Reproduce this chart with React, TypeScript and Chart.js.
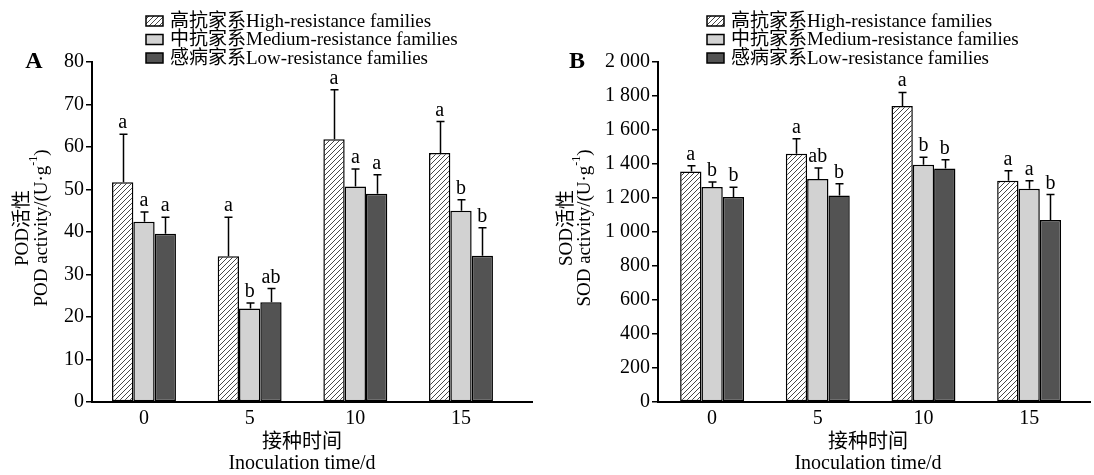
import React, { useEffect, useRef } from "react";
import { Chart, registerables } from "chart.js";
Chart.register(...registerables);

const days = [0, 5, 10, 15];
const seriesNames = [
  "高抗家系High-resistance families",
  "中抗家系Medium-resistance families",
  "感病家系Low-resistance families",
];

const podHigh = [51.7, 34.3, 61.8, 58.6];
const podHighSd = [11.3, 9.2, 11.7, 7.4];
const podMedium = [42.4, 22.0, 50.7, 45.0];
const podMediumSd = [2.3, 1.3, 4.1, 2.6];
const podLow = [39.6, 23.5, 49.0, 34.4];
const podLowSd = [3.9, 3.2, 4.5, 6.6];
const podHighLetters = ["a", "a", "a", "a"];
const podMediumLetters = ["a", "b", "a", "b"];
const podLowLetters = ["a", "ab", "a", "b"];

const sodHigh = [1356, 1460, 1741, 1302];
const sodHighSd = [34, 88, 80, 58];
const sodMedium = [1265, 1312, 1396, 1255];
const sodMediumSd = [29, 64, 44, 47];
const sodLow = [1206, 1214, 1374, 1070];
const sodLowSd = [57, 70, 51, 150];
const sodHighLetters = ["a", "a", "a", "a"];
const sodMediumLetters = ["b", "ab", "b", "a"];
const sodLowLetters = ["b", "b", "b", "b"];

const FONT = '"Liberation Serif", "Times New Roman", "Noto Sans CJK SC", serif';

function makeHatch(): CanvasPattern | string {
  const c = document.createElement("canvas");
  c.width = 5;
  c.height = 5;
  const g = c.getContext("2d");
  if (!g) return "#fff";
  g.fillStyle = "#fff";
  g.fillRect(0, 0, 5, 5);
  g.strokeStyle = "#333";
  g.lineWidth = 0.9;
  g.beginPath();
  g.moveTo(0, 5);
  g.lineTo(5, 0);
  g.moveTo(-1, 1);
  g.lineTo(1, -1);
  g.moveTo(4, 6);
  g.lineTo(6, 4);
  g.stroke();
  return g.createPattern(c, "repeat") as CanvasPattern;
}

type PanelCfg = {
  letter: string;
  prefix: string;
  yMax: number;
  yStep: number;
  axisLeft: number;
  rightPad: number;
  xMin: number;
  xMax: number;
  title1X: number;
  title2X: number;
  letterX: number;
  legendX: number;
  values: number[][];
  sds: number[][];
  letters: string[][];
  fmt: (v: number) => string;
};

function Panel({ cfg }: { cfg: PanelCfg }) {
  const ref = useRef<HTMLCanvasElement | null>(null);
  useEffect(() => {
    if (!ref.current) return;
    const hatch = makeHatch();
    const fills: any[] = [hatch, "#d2d2d2", "#535353"];

    const overlay = {
      id: "overlay",
      afterDatasetsDraw(chart: any) {
        const ctx = chart.ctx;
        const ys = chart.scales.y;
        ctx.save();
        ctx.strokeStyle = "#000";
        ctx.lineWidth = 1.5;
        ctx.fillStyle = "#000";
        ctx.font = `20px ${FONT}`;
        ctx.textAlign = "center";
        ctx.textBaseline = "alphabetic";
        cfg.values.forEach((vals, i) => {
          const meta = chart.getDatasetMeta(i);
          meta.data.forEach((el: any, j: number) => {
            const top = ys.getPixelForValue(vals[j] + cfg.sds[i][j]);
            const x = Math.round(el.x) + 0.5;
            ctx.beginPath();
            ctx.moveTo(x, el.y);
            ctx.lineTo(x, top);
            ctx.moveTo(x - 4, top);
            ctx.lineTo(x + 4, top);
            ctx.stroke();
            ctx.fillText(cfg.letters[i][j], el.x, top - 6);
          });
        });
        ctx.restore();
      },
      afterDraw(chart: any) {
        const ctx = chart.ctx;
        const area = chart.chartArea;
        ctx.save();
        ctx.fillStyle = "#000";
        // legend
        ctx.font = `19px ${FONT}`;
        ctx.textBaseline = "middle";
        ctx.textAlign = "left";
        const rows = [21, 39.5, 58];
        seriesNames.forEach((name, i) => {
          const y = rows[i];
          ctx.fillStyle = fills[i];
          ctx.fillRect(cfg.legendX, y - 5, 17, 10);
          ctx.strokeStyle = "#000";
          ctx.lineWidth = 1.5;
          ctx.strokeRect(cfg.legendX, y - 5, 17, 10);
          ctx.fillStyle = "#000";
          ctx.fillText(name, cfg.legendX + 24, y + 1);
        });
        // panel letter
        ctx.font = `bold 24px ${FONT}`;
        ctx.textAlign = "center";
        ctx.textBaseline = "alphabetic";
        ctx.fillText(cfg.letter, cfg.letterX, 68);
        // x title
        ctx.font = `20px ${FONT}`;
        ctx.textBaseline = "middle";
        const cx = area.left + 210;
        ctx.fillText("接种时间", cx, 443);
        ctx.fillText("Inoculation time/d", cx, 464);
        // y title (rotated)
        const cy = (area.top + area.bottom) / 2 - 4;
        ctx.save();
        ctx.translate(cfg.title1X, cy);
        ctx.rotate(-Math.PI / 2);
        ctx.font = `19px ${FONT}`;
        ctx.textAlign = "center";
        ctx.fillText(cfg.prefix + "活性", 0, 0);
        ctx.restore();
        ctx.save();
        ctx.translate(cfg.title2X, cy);
        ctx.rotate(-Math.PI / 2);
        const a = cfg.prefix + " activity/(U·g";
        const sup = "-1";
        const b = ")";
        ctx.font = `19px ${FONT}`;
        const wa = ctx.measureText(a).width;
        const wb = ctx.measureText(b).width;
        ctx.font = `12px ${FONT}`;
        const ws = ctx.measureText(sup).width;
        let x0 = -(wa + ws + wb) / 2;
        ctx.textAlign = "left";
        ctx.font = `19px ${FONT}`;
        ctx.fillText(a, x0, 0);
        x0 += wa;
        ctx.font = `12px ${FONT}`;
        ctx.fillText(sup, x0, -8);
        x0 += ws;
        ctx.font = `19px ${FONT}`;
        ctx.fillText(b, x0, 0);
        ctx.restore();
        ctx.restore();
      },
    };

    const chart = new Chart(ref.current, {
      type: "bar",
      data: {
        datasets: cfg.values.map((vals, i) => ({
          label: seriesNames[i],
          data: days.map((d, j) => ({ x: d, y: vals[j] })),
          backgroundColor: fills[i],
          borderColor: "#000",
          borderWidth: 1.5,
          borderSkipped: false,
          categoryPercentage: 0.605,
          barPercentage: 1,
        })) as any,
      },
      options: {
        animation: false,
        responsive: false,
        layout: { padding: { left: 0, right: cfg.rightPad, top: 62, bottom: 0 } },
        plugins: { legend: { display: false }, tooltip: { enabled: false } },
        scales: {
          x: {
            type: "linear",
            offset: false,
            min: cfg.xMin,
            max: cfg.xMax,
            afterBuildTicks: (s: any) => {
              s.ticks = days.map((v) => ({ value: v }));
            },
            afterFit: (s: any) => {
              s.height = 73;
            },
            grid: { display: false, drawTicks: false, offset: false },
            border: { display: true, color: "#000", width: 2 },
            ticks: {
              color: "#000",
              font: { family: FONT, size: 20 },
              padding: 5,
              autoSkip: false,
              maxRotation: 0,
              callback: (v: any) => String(v),
            },
          },
          y: {
            min: 0,
            max: cfg.yMax,
            afterFit: (s: any) => {
              s.width = cfg.axisLeft;
            },
            ticks: {
              stepSize: cfg.yStep,
              color: "#000",
              font: { family: FONT, size: 20 },
              padding: 2,
              callback: (v: any) => cfg.fmt(Number(v)),
            },
            grid: {
              drawOnChartArea: false,
              drawTicks: true,
              tickLength: 6,
              color: "#000",
              lineWidth: 1.5,
            },
            border: { display: true, color: "#000", width: 2 },
          },
        },
      } as any,
      plugins: [overlay],
    });
    return () => chart.destroy();
  }, [cfg]);
  return <canvas ref={ref} width={547} height={475} style={{ display: "block" }} />;
}

const podCfg: PanelCfg = {
  letter: "A",
  prefix: "POD",
  yMax: 80,
  yStep: 10,
  axisLeft: 92,
  rightPad: 15,
  xMin: -2.46,
  xMax: 18.36,
  title1X: 23,
  title2X: 42,
  letterX: 34,
  legendX: 146,
  values: [podHigh, podMedium, podLow],
  sds: [podHighSd, podMediumSd, podLowSd],
  letters: [podHighLetters, podMediumLetters, podLowLetters],
  fmt: (v) => String(v),
};

const sodCfg: PanelCfg = {
  letter: "B",
  prefix: "SOD",
  yMax: 2000,
  yStep: 200,
  axisLeft: 111,
  rightPad: 4,
  xMin: -2.56,
  xMax: 17.88,
  title1X: 20,
  title2X: 38,
  letterX: 30,
  legendX: 160,
  values: [sodHigh, sodMedium, sodLow],
  sds: [sodHighSd, sodMediumSd, sodLowSd],
  letters: [sodHighLetters, sodMediumLetters, sodLowLetters],
  fmt: (v) =>
    v >= 1000 ? `${Math.floor(v / 1000)} ${String(v % 1000).padStart(3, "0")}` : String(v),
};

export default function App() {
  return (
    <div
      style={{
        position: "fixed",
        left: 0,
        top: 0,
        width: 1094,
        height: 475,
        background: "#fff",
        display: "flex",
      }}
    >
      <Panel cfg={podCfg} />
      <Panel cfg={sodCfg} />
    </div>
  );
}
